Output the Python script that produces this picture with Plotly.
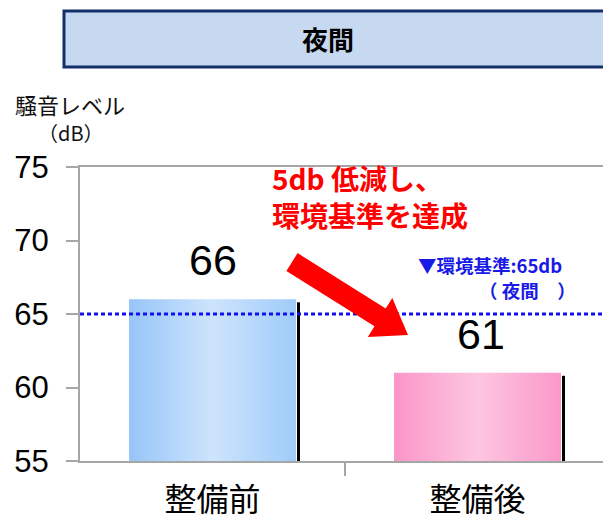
import plotly.graph_objects as go
import math

# ---------------- data ----------------
categories = ["整備前", "整備後"]
values = [66, 61]
value_labels = ["66", "61"]
y_ticks = [55, 60, 65, 70, 75]
standard_level = 65
title_text = "夜間"
y_title = ["騒音レベル", "（dB）"]
note_lines = ["5db 低減し、", "環境基準を達成"]
standard_lines = ["▼環境基準:65db", "（ 夜間　）"]
bar_gradients = [
    ["#96c5f8", "#cde4fc", "#9fcbf9"],
    ["#fb95c7", "#fdc6e1", "#fb98c9"],
]

# ---------------- layout geometry ----------------
W, H = 603, 521
ML, MT, MB = 80, 167, 60
plot_w = W - ML
plot_h = H - MT - MB
cat_px = 265
x_range = [-0.5, -0.5 + plot_w / cat_px]
y_range = [y_ticks[0], y_ticks[-1]]
bar_w = 0.63
dx = (x_range[1] - x_range[0]) / plot_w
dy = (y_range[1] - y_range[0]) / plot_h

def pxx(p):
    return (p - ML) / plot_w

def pxy(p):
    return (H - MB - p) / plot_h

JP = "Noto Sans CJK JP"
NUM = "Liberation Sans, Arial, Noto Sans CJK JP"

fig = go.Figure()

def note(x, y, text, size, color, family=JP, xanchor="center"):
    fig.add_annotation(xref="paper", yref="paper", x=pxx(x), y=pxy(y),
                       xanchor=xanchor, yanchor="middle", text=text,
                       showarrow=False, font=dict(family=family, size=size, color=color))

# bars with horizontal gradient
for i, (cat, v) in enumerate(zip(categories, values)):
    x0, x1 = i - bar_w / 2, i + bar_w / 2
    base = y_range[0]
    cs = bar_gradients[i]
    fig.add_trace(go.Scatter(
        x=[x0, x1, x1, x0, x0], y=[base, base, v, v, base],
        mode="lines", fill="toself", line=dict(width=0),
        fillgradient=dict(type="horizontal",
                          colorscale=[[0, cs[0]], [0.5, cs[1]], [1, cs[2]]]),
        hoverinfo="skip", showlegend=False,
    ))
    # dark shadow edge on the right of each bar
    xs = x1 + 2.5 * dx
    fig.add_trace(go.Scatter(
        x=[xs, xs], y=[v - 3 * dy, base], mode="lines",
        line=dict(color="black", width=3), hoverinfo="skip", showlegend=False,
    ))
    fig.add_annotation(x=i + 3 * dx * i, y=v, text=value_labels[i], showarrow=False,
                       xanchor="center", yanchor="middle", yshift=39,
                       font=dict(family=NUM, size=43, color="black"))

# environmental standard dotted line
fig.add_shape(type="line", xref="paper", x0=0, x1=1, yref="y",
              y0=standard_level, y1=standard_level,
              line=dict(color="#1010f0", width=3, dash="4px,3px"))

# title box
fig.add_shape(type="rect", xref="paper", yref="paper",
              x0=pxx(64), x1=pxx(640), y0=pxy(67), y1=pxy(11),
              fillcolor="#c6d9f1", line=dict(color="#14306a", width=3), layer="above")
note(328, 38, "<b>" + title_text + "</b>", 26, "black")

# y axis title
note(70, 104, y_title[0], 22, "#111")
note(71, 132, y_title[1], 20, "#111")

# red note
for ln, cy in zip(note_lines, [178, 215]):
    note(270, cy, "<b>" + ln + "</b>", 28, "#ff0000", xanchor="left")

# blue standard label
note(416, 265, "<b>" + standard_lines[0] + "</b>", 18.5, "#1a1ae6", xanchor="left")
note(477, 290, "<b>" + standard_lines[1] + "</b>", 18.5, "#1a1ae6", xanchor="left")

# red arrow (decoration) as polygon in paper coords
tail = (292, 262)
tip = (408, 335)
shaft_half, head_half, head_len = 10.5, 23, 33
L = math.hypot(tip[0] - tail[0], tip[1] - tail[1])
ux, uy = (tip[0] - tail[0]) / L, (tip[1] - tail[1]) / L
nx, ny = -uy, ux
bx, by = tip[0] - ux * head_len, tip[1] - uy * head_len
pts = [
    (tail[0] + nx * shaft_half, tail[1] + ny * shaft_half),
    (bx + nx * shaft_half, by + ny * shaft_half),
    (bx + nx * head_half, by + ny * head_half),
    tip,
    (bx - nx * head_half, by - ny * head_half),
    (bx - nx * shaft_half, by - ny * shaft_half),
    (tail[0] - nx * shaft_half, tail[1] - ny * shaft_half),
]
path = "M " + " L ".join(f"{pxx(p[0]):.5f},{pxy(p[1]):.5f}" for p in pts) + " Z"
fig.add_shape(type="path", xref="paper", yref="paper", path=path,
              fillcolor="#ff0000", line=dict(width=0), layer="above")

fig.update_layout(
    width=W, height=H,
    margin=dict(l=ML, r=0, t=MT, b=MB, pad=0, autoexpand=False),
    paper_bgcolor="white", plot_bgcolor="white",
    showlegend=False,
    xaxis=dict(
        range=x_range, tickvals=list(range(len(categories))), ticktext=categories,
        ticks="", showgrid=False, zeroline=False, automargin=False,
        showline=True, linecolor="#a6a6a6", linewidth=2, mirror=True,
        tickfont=dict(family=JP, size=32, color="black"),
        ticklabelstandoff=10,
        minor=dict(tickvals=[i + 0.5 for i in range(len(categories) - 1)],
                   ticks="outside", ticklen=13, tickcolor="#a6a6a6", tickwidth=2),
    ),
    yaxis=dict(
        range=y_range, tickvals=y_ticks, ticks="outside", ticklen=12,
        tickcolor="#a6a6a6", tickwidth=1.5, showgrid=False, zeroline=False,
        automargin=False,
        showline=True, linecolor="#a6a6a6", linewidth=2, mirror=True,
        tickfont=dict(family=NUM, size=31, color="black"),
        ticklabelstandoff=11,
    ),
)

fig.write_html("out.html")
